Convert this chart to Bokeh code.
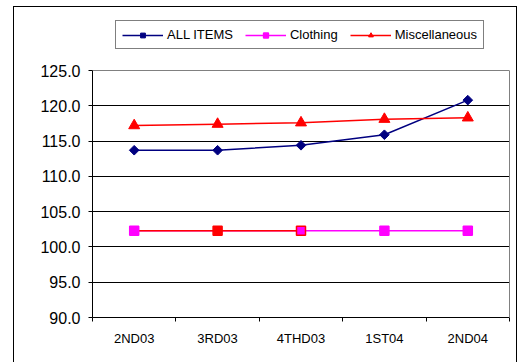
from bokeh.plotting import figure
from bokeh.models import (Range1d, FixedTicker, NumeralTickFormatter, Legend, LegendItem,
                          InlineStyleSheet, LinearAxis, Grid)
from bokeh.embed import file_html
from bokeh.resources import INLINE

# Quarterly price indices
quarters = ["2ND03", "3RD03", "4THD03", "1ST04", "2ND04"]
all_items = [113.7, 113.7, 114.4, 115.9, 120.8]
clothing = [102.3, 102.3, 102.3, 102.3, 102.3]
miscellaneous = [117.2, 117.4, 117.6, 118.1, 118.3]
y_ticks = [90, 95, 100, 105, 110, 115, 120, 125]

# per-point colours of the Clothing markers
clothing_fill = ["#FF00FF", "#FF0000", "#FF00FF", "#FF00FF", "#FF00FF"]
clothing_edge = ["#FF00FF", "#FF0000", "#FF0000", "#FF00FF", "#FF00FF"]

FONT = "Liberation Sans"
NAVY = "#000080"
MAGENTA = "#FF00FF"
RED = "#FF0000"
GRAY = "#808080"

xs = [i + 0.5 for i in range(len(quarters))]
y_min, y_max = y_ticks[0], y_ticks[-1]

# The frame reaches up to the legend row; the value axis spans y_min..y_max
# over the lower 247 px of it, and the space above holds the legend.
H, TOP, BOTTOM = 362, 10, 45
frame_h = H - TOP - BOTTOM
plot_h = 247
y_top = y_min + (y_max - y_min) * frame_h / plot_h

p = figure(width=517, height=H, output_backend="svg", toolbar_location=None,
           x_range=Range1d(0, len(quarters)), y_range=Range1d(y_min, y_top),
           min_border_left=92, min_border_right=8, min_border_top=TOP,
           min_border_bottom=BOTTOM)
p.background_fill_color = "white"
p.border_fill_color = "white"
p.outline_line_color = None

# chart area frame drawn around the whole figure
p.stylesheets = [InlineStyleSheet(css="""
:host { position: relative; }
:host::after {
  content: "";
  position: absolute;
  left: 13px; top: 6px;
  width: 504px; height: 356px;
  box-sizing: border-box;
  border: 1px solid black;
  border-bottom: none;
  pointer-events: none;
}
""")]

# y axis
p.yaxis.bounds = (y_min, y_max)
p.yaxis.ticker = FixedTicker(ticks=y_ticks)
p.yaxis.formatter = NumeralTickFormatter(format="0.0")
p.yaxis.major_label_text_font = FONT
p.yaxis.major_label_text_font_size = "16px"
p.yaxis.major_label_text_color = "black"
p.yaxis.major_tick_out = 4
p.yaxis.major_tick_in = 0
p.yaxis.minor_tick_line_color = None
p.yaxis.major_label_standoff = 8
p.yaxis.axis_line_color = "black"

# plain grey edge on the right of the plot area
right_edge = LinearAxis(bounds=(y_min, y_max), ticker=FixedTicker(ticks=[]),
                        axis_line_color=GRAY, major_tick_line_color=None,
                        minor_tick_line_color=None)
p.add_layout(right_edge, "right")

# x axis: labels at category centres, tick marks on category boundaries
p.xaxis.ticker = FixedTicker(ticks=xs, minor_ticks=list(range(len(quarters) + 1)))
p.xaxis.major_label_overrides = {x: q for x, q in zip(xs, quarters)}
p.xaxis.major_label_text_font = FONT
p.xaxis.major_label_text_font_size = "13px"
p.xaxis.major_label_text_color = "black"
p.xaxis.major_tick_out = 0
p.xaxis.major_tick_in = 0
p.xaxis.minor_tick_out = 4
p.xaxis.minor_tick_in = 0
p.xaxis.minor_tick_line_color = "black"
p.xaxis.major_label_standoff = 9
p.xaxis.axis_line_color = "black"

p.xgrid.grid_line_color = None
p.ygrid.ticker = FixedTicker(ticks=y_ticks[1:-1])
p.ygrid.grid_line_color = "black"
p.ygrid.grid_line_width = 1
# grey top edge of the plot area
p.add_layout(Grid(dimension=1, ticker=FixedTicker(ticks=[y_max]),
                  grid_line_color=GRAY, grid_line_width=1))

# series
ai_line = p.line(xs, all_items, line_color=NAVY, line_width=1.5)
ai_pts = p.scatter(xs, all_items, marker="square", angle=0.785398, size=6.8,
                   fill_color=NAVY, line_color=NAVY)

cl_line = p.line(xs, clothing, line_color=MAGENTA, line_width=1.5)
p.line(xs[:3], clothing[:3], line_color=RED, line_width=1.5)
cl_pts = p.scatter(xs, clothing, marker="square", size=9,
                   fill_color=clothing_fill, line_color=clothing_edge, line_width=1.5)

mi_line = p.line(xs, miscellaneous, line_color=RED, line_width=1.5)
mi_pts = p.scatter(xs, miscellaneous, marker="triangle", size=11,
                   fill_color=RED, line_color=RED)

legend = Legend(items=[
    LegendItem(label="ALL ITEMS", renderers=[ai_line, ai_pts]),
    LegendItem(label="Clothing", renderers=[cl_line, cl_pts]),
    LegendItem(label="Miscellaneous", renderers=[mi_line, mi_pts]),
], orientation="horizontal", location=(23, 268))
legend.label_text_font = FONT
legend.label_text_font_size = "13px"
legend.label_text_color = "black"
legend.glyph_width = 41
legend.glyph_height = 12
legend.label_height = 12
legend.label_standoff = 4
legend.spacing = 12
legend.padding = 6
legend.margin = 0
legend.border_line_color = "black"
legend.border_line_width = 1
legend.background_fill_color = "white"
legend.background_fill_alpha = 1
p.add_layout(legend, "center")

open("out.html", "w").write(file_html(p, INLINE))
